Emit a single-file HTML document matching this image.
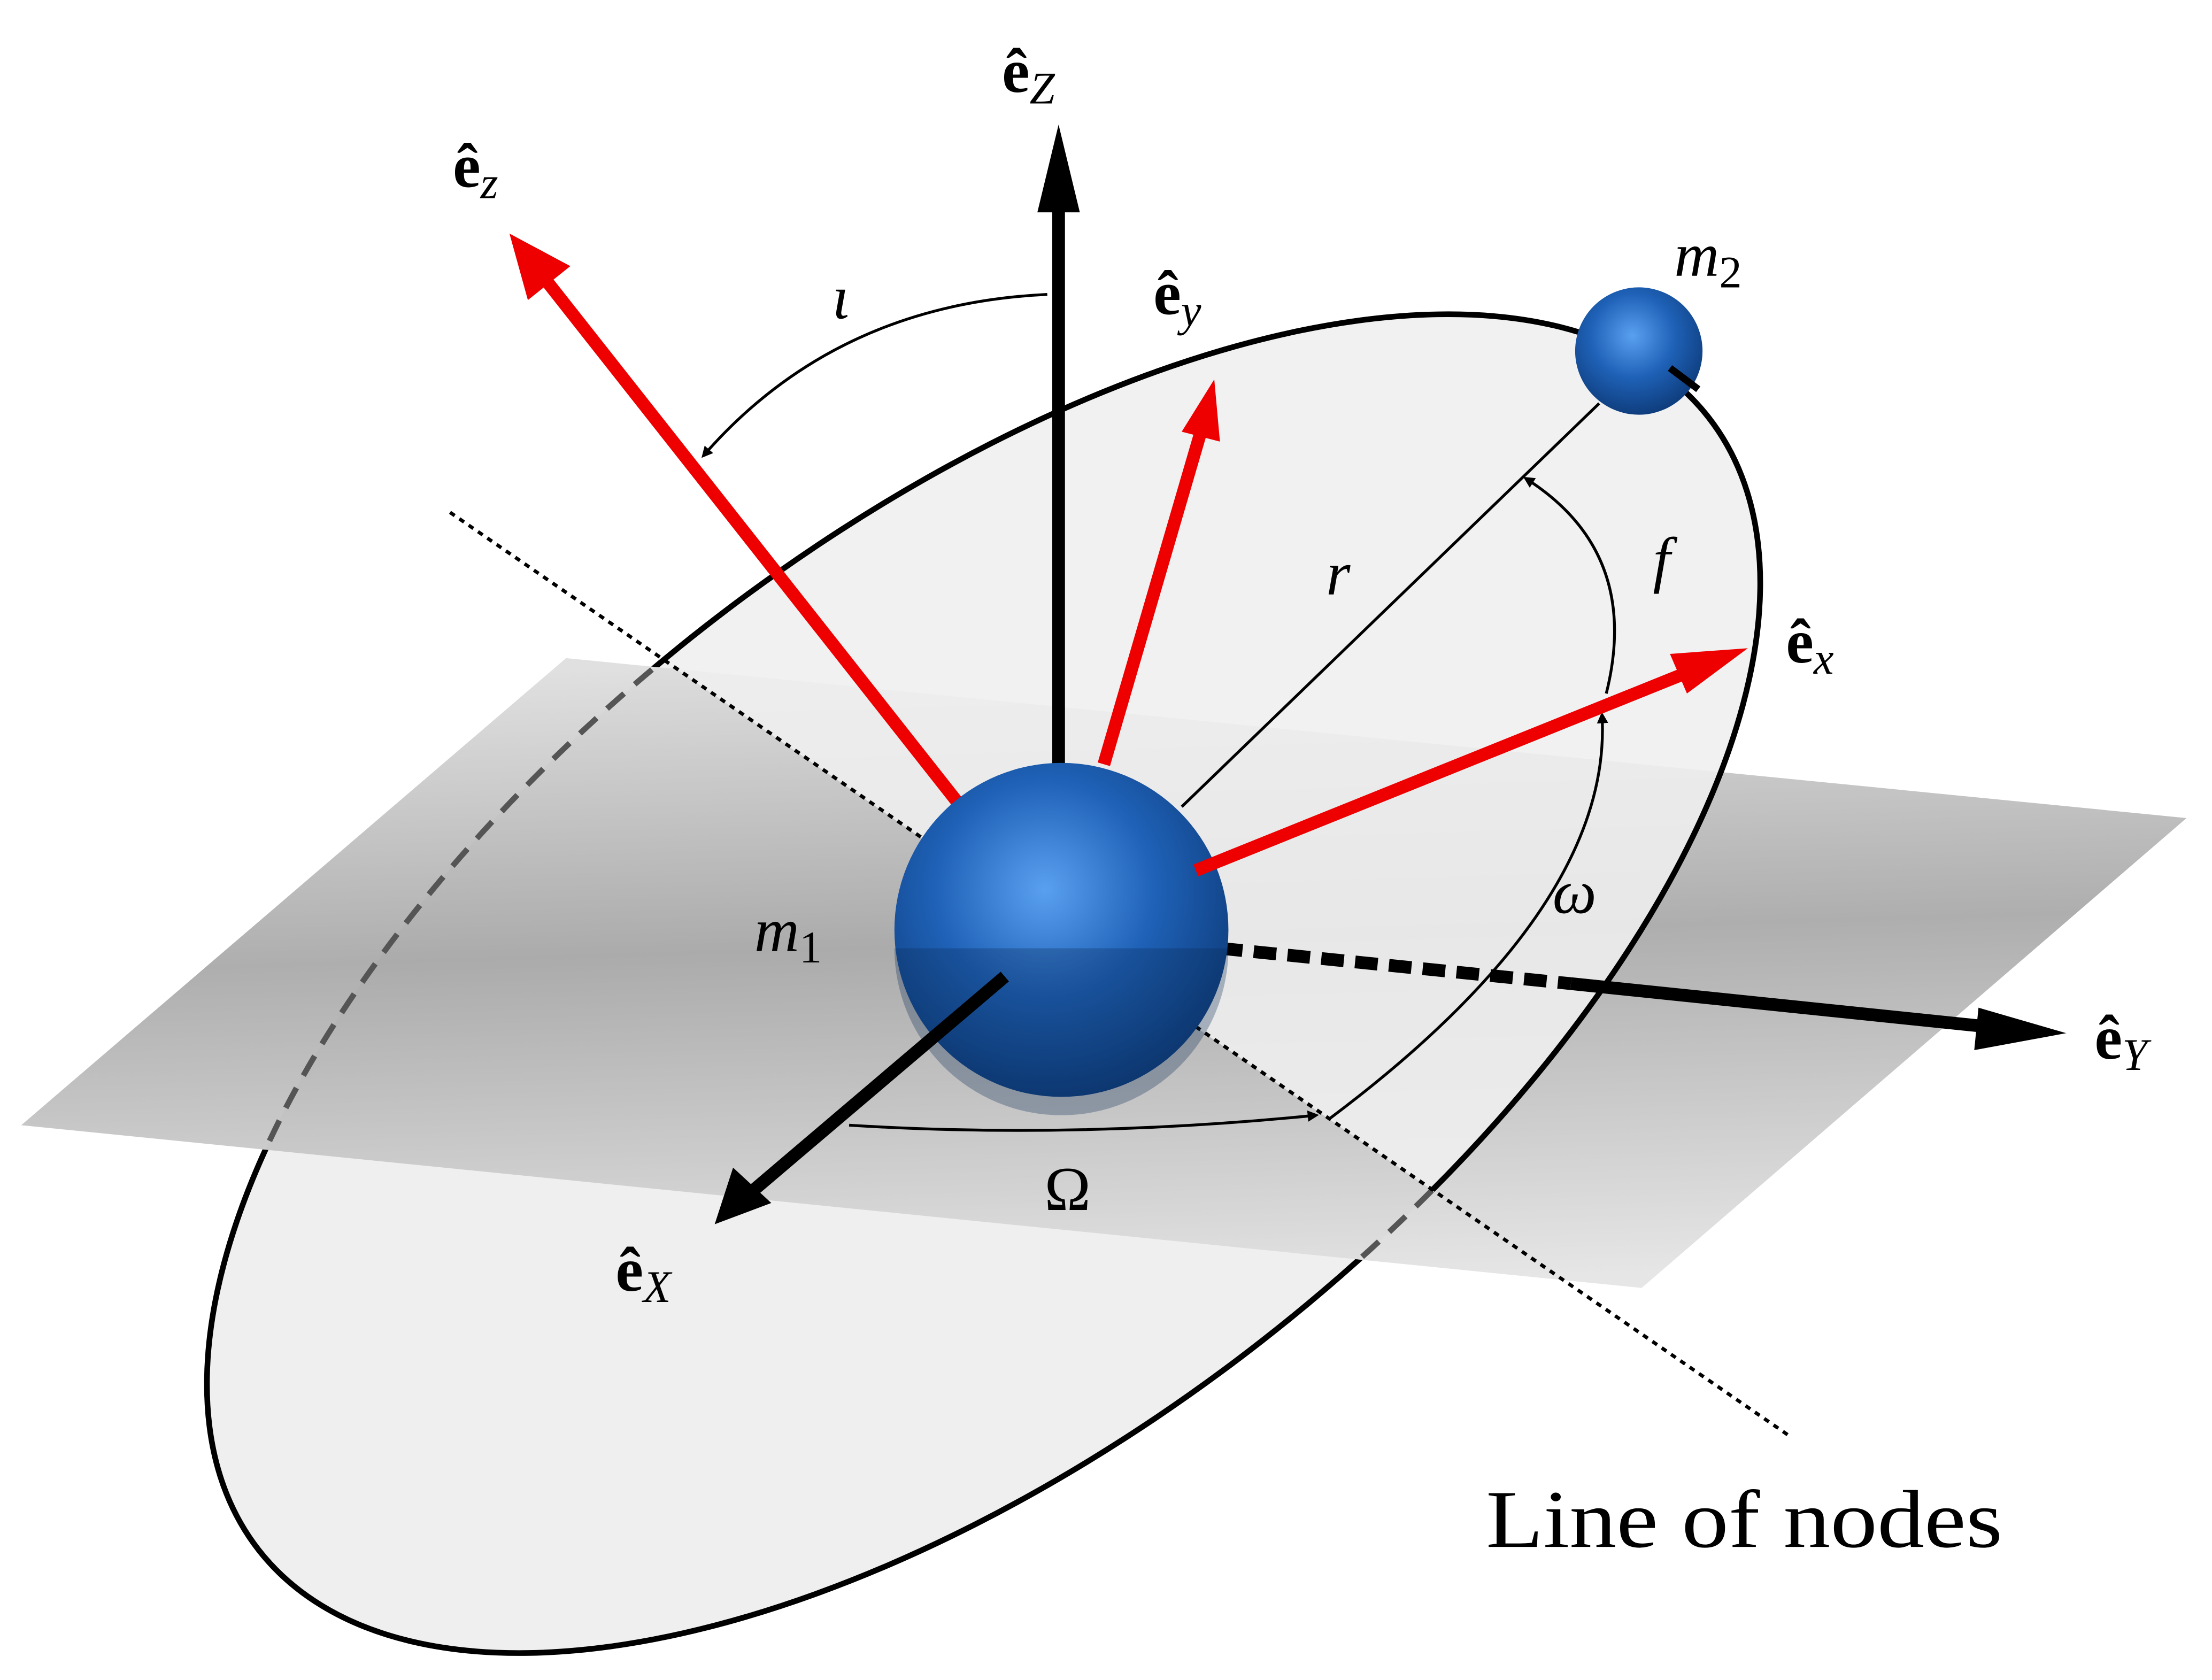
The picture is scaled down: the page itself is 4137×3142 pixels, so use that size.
<!DOCTYPE html>
<html><head><meta charset="utf-8"><style>
html,body{margin:0;padding:0;background:#fff;overflow:hidden;width:4137px;height:3142px;}
svg{display:block;position:absolute;left:0;top:0;}
text{font-family:"Liberation Serif",serif;}
</style></head><body>
<svg width="4137" height="3142" viewBox="0 0 1563 1187" xmlns="http://www.w3.org/2000/svg">
<defs>
<radialGradient id="sph" cx="0.45" cy="0.38" r="0.65">
<stop offset="0" stop-color="#5aa0f0"/><stop offset="0.5" stop-color="#1f62b8"/><stop offset="1" stop-color="#0d3a78"/>
</radialGradient>
<linearGradient id="pl" x1="0.45" y1="0" x2="0.55" y2="1">
<stop offset="0" stop-color="#d8d8d8"/><stop offset="0.45" stop-color="#9a9a9a"/><stop offset="1" stop-color="#e0e0e0"/>
</linearGradient>
<marker id="ab" markerWidth="8" markerHeight="8" refX="6" refY="4" orient="auto" markerUnits="userSpaceOnUse"><path d="M0,0 L8,4 L0,8 Z" fill="#000"/></marker>
<clipPath id="upper"><polygon points="0,143 1563,1221 1563,0 0,0"/></clipPath>
<clipPath id="lower"><polygon points="0,143 1563,1221 1563,1187 0,1187"/></clipPath>
<clipPath id="planeclip"><polygon points="400,465 1545,578 1160,910 15,795"/></clipPath>
<mask id="solidmask" maskUnits="userSpaceOnUse" x="0" y="0" width="1563" height="1187">
<rect x="0" y="0" width="1563" height="1187" fill="#fff"/>
<g clip-path="url(#lower)"><polygon points="400,465 1545,578 1160,910 15,795" fill="#000"/></g>
</mask>
</defs>
<g clip-path="url(#lower)">
<ellipse cx="695" cy="695" rx="650" ry="320" transform="rotate(-38 695 695)" fill="#efefef"/>
</g>
<polygon points="400,465 1545,578 1160,910 15,795" fill="url(#pl)" opacity="0.8"/>
<g clip-path="url(#upper)">
<ellipse cx="695" cy="695" rx="650" ry="320" transform="rotate(-38 695 695)" fill="#efefef" opacity="0.88"/>
</g>
<g mask="url(#solidmask)">
<ellipse cx="695" cy="695" rx="650" ry="320" transform="rotate(-38 695 695)" fill="none" stroke="#000" stroke-width="4"/>
</g>
<g clip-path="url(#lower)"><g clip-path="url(#planeclip)">
<ellipse cx="695" cy="695" rx="650" ry="320" transform="rotate(-38 695 695)" fill="none" stroke="#555" stroke-width="4" stroke-dasharray="16,10"/>
</g></g>
<line x1="318" y1="362" x2="1265" y2="1015" stroke="#000" stroke-width="2.5" stroke-dasharray="4,4"/>
<line x1="835" y1="570" x2="1130" y2="285" stroke="#000" stroke-width="2"/>
<path d="M940,790 Q1140,640 1132,505" stroke="#000" stroke-width="2" fill="none" marker-end="url(#ab)"/>
<path d="M1135,490 Q1160,390 1078,338" stroke="#000" stroke-width="2" fill="none" marker-end="url(#ab)"/>
<path d="M600,795 Q760,805 930,788" stroke="#000" stroke-width="2" fill="none" marker-end="url(#ab)"/>
<path d="M740,208 Q590,215 497,322" stroke="#000" stroke-width="2" fill="none" marker-end="url(#ab)"/>
<line x1="862" y1="670" x2="1110" y2="695" stroke="#000" stroke-width="9" stroke-dasharray="16,8"/>
<line x1="1110" y1="695" x2="1410" y2="726" stroke="#000" stroke-width="9"/>
<polygon points="1460,730 1398,712 1395,742" fill="#000"/>
<line x1="683" y1="575" x2="385" y2="197" stroke="#e00" stroke-width="9"/>
<polygon points="360,165 373,212 403,188" fill="#e00"/>
<line x1="780" y1="540" x2="850" y2="300" stroke="#e00" stroke-width="9"/>
<polygon points="858,268 835,305 862,312" fill="#e00"/>
<line x1="748" y1="545" x2="748" y2="130" stroke="#000" stroke-width="9"/>
<polygon points="748,88 733,150 763,150" fill="#000"/>
<circle cx="750" cy="657" r="118" fill="url(#sph)"/>
<path d="M632,670 A118,118 0 0 0 868,670 Z" fill="#0a2a55" opacity="0.3"/>
<line x1="845" y1="615" x2="1200" y2="472" stroke="#e00" stroke-width="9"/>
<polygon points="1235,458 1180,462 1192,490" fill="#e00"/>
<line x1="710" y1="690" x2="530" y2="843" stroke="#000" stroke-width="9"/>
<polygon points="505,865 518,825 545,850" fill="#000"/>
<circle cx="1158" cy="248" r="45" fill="url(#sph)"/>
<line x1="1180" y1="260" x2="1200" y2="275" stroke="#000" stroke-width="5"/>
<g font-size="44" font-style="italic">
<text x="708" y="65" font-style="normal" font-weight="bold">ê<tspan font-style="italic" font-weight="normal" font-size="32" dy="8">Z</tspan></text>
<text x="320" y="132" font-style="normal" font-weight="bold">ê<tspan font-style="italic" font-weight="normal" font-size="32" dy="8">z</tspan></text>
<text x="815" y="222" font-style="normal" font-weight="bold">ê<tspan font-style="italic" font-weight="normal" font-size="32" dy="8">y</tspan></text>
<text x="1262" y="468" font-style="normal" font-weight="bold">ê<tspan font-style="italic" font-weight="normal" font-size="32" dy="8">x</tspan></text>
<text x="1480" y="748" font-style="normal" font-weight="bold">ê<tspan font-style="italic" font-weight="normal" font-size="32" dy="8">Y</tspan></text>
<text x="435" y="912" font-style="normal" font-weight="bold">ê<tspan font-style="italic" font-weight="normal" font-size="32" dy="8">X</tspan></text>
<text x="1183" y="195">m<tspan font-style="normal" font-size="32" dy="8">2</tspan></text>
<text x="533" y="672">m<tspan font-style="normal" font-size="32" dy="8">1</tspan></text>
<text x="588" y="225">ι</text>
<text x="937" y="420">r</text>
<text x="1168" y="410">f</text>
<text x="1097" y="645">ω</text>
<text x="738" y="855" font-style="normal">Ω</text>
</g>
<text x="1050" y="1093" font-size="58" textLength="365" lengthAdjust="spacingAndGlyphs">Line of nodes</text>
</svg>
</body></html>
